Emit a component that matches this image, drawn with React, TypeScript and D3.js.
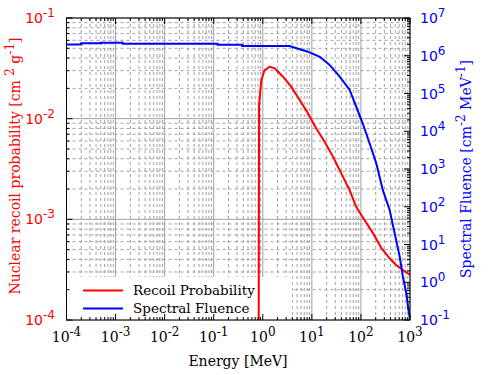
import React from "react";
import * as d3 from "d3";

const fluenceE = [1e-4, 2e-4, 2e-4, 5e-4, 5e-4, 1.4e-3, 1.4e-3, 0.12, 0.12, 0.38, 0.38, 3.5, 8.3, 14.5, 23, 37, 59, 80, 109, 150, 206, 280, 385, 486, 617, 716, 841, 950, 1000];
const fluenceV = [2.0e6, 2.0e6, 2.14e6, 2.14e6, 2.22e6, 2.22e6, 2.09e6, 2.09e6, 1.96e6, 1.96e6, 1.81e6, 1.81e6, 1.28e6, 9.4e5, 5.7e5, 2.8e5, 1.24e5, 4.5e4, 1.6e4, 4.8e3, 1.4e3, 275, 82, 20, 4.75, 1.4, 0.51, 0.15, 0.11];

const recoilE = [0.82, 0.84, 0.935, 1.09, 1.38, 1.75, 2.58, 3.82, 5.65, 8.3, 12.3, 18.2, 26.9, 39.8, 58.7, 80, 119, 176, 260, 385, 526, 716, 1000];
const recoilV = [1e-5, 0.0136, 0.0242, 0.0304, 0.0328, 0.0316, 0.0261, 0.0207, 0.0153, 0.0113, 0.008, 0.0059, 0.0042, 0.00286, 0.00195, 0.00133, 0.00098, 0.00073, 0.00052, 0.00041, 0.00035, 0.000314, 0.00028];

const xExps = [-4, -3, -2, -1, 0, 1, 2, 3];
const yLeftExps = [-4, -3, -2, -1];
const yRightExps = [-1, 0, 1, 2, 3, 4, 5, 6, 7];

const L = 66.5, R = 410, T = 18, B = 320;

function minors(exps: number[]) {
  const out: number[] = [];
  for (let i = 0; i < exps.length - 1; i++) {
    for (let k = 2; k <= 9; k++) out.push(k * Math.pow(10, exps[i]));
  }
  return out;
}

export default function App() {
  const x = d3.scaleLog().domain([1e-4, 1e3]).range([L, R]);
  const yL = d3.scaleLog().domain([1e-4, 1e-1]).range([B, T]);
  const yR = d3.scaleLog().domain([1e-1, 1e7]).range([B, T]);

  const xMaj = xExps.map((e) => Math.pow(10, e));
  const xMin = minors(xExps);
  const yLMaj = yLeftExps.map((e) => Math.pow(10, e));
  const yLMin = minors(yLeftExps);
  const yRMaj = yRightExps.map((e) => Math.pow(10, e));
  const yRMin = minors(yRightExps);

  const fluenceLine = d3
    .line<number>()
    .x((_, i) => x(fluenceE[i]))
    .y((d) => yR(d));
  const recoilLine = d3
    .line<number>()
    .x((_, i) => x(recoilE[i]))
    .y((d) => yL(d));

  const grid = "#a0a0a0";
  const sans = "DejaVu Sans, sans-serif";
  const serif = "DejaVu Serif, serif";

  return (
    <svg width={500} height={375} style={{ position: "absolute", left: 0, top: 0, background: "#fff" }}>
      <defs>
        <clipPath id="plot">
          <rect x={L} y={T} width={R - L} height={B - T} />
        </clipPath>
      </defs>
      {/* grid */}
      <g>
        {xMin.map((v, i) => (
          <line key={"gxm" + i} x1={x(v)} x2={x(v)} y1={T} y2={B} stroke={grid} strokeWidth={1} strokeDasharray="3,3" />
        ))}
        {yLMin.map((v, i) => (
          <line key={"gym" + i} x1={L} x2={R} y1={yL(v)} y2={yL(v)} stroke={grid} strokeWidth={1} strokeDasharray="3,3" />
        ))}
        {xMaj.map((v, i) => (
          <line key={"gxM" + i} x1={x(v)} x2={x(v)} y1={T} y2={B} stroke={grid} strokeWidth={1} />
        ))}
        {yLMaj.map((v, i) => (
          <line key={"gyM" + i} x1={L} x2={R} y1={yL(v)} y2={yL(v)} stroke={grid} strokeWidth={1} />
        ))}
      </g>
      {/* legend background */}
      <rect x={L + 0.5} y={277} width={225} height={B - 277 - 0.5} fill="#fff" />
      {/* data */}
      <g clipPath="url(#plot)" fill="none" strokeWidth={2}>
        <path d={recoilLine(recoilV) || ""} stroke="#ff0000" />
        <path d={fluenceLine(fluenceV) || ""} stroke="#0000ff" />
      </g>
      {/* frame */}
      <rect x={L} y={T} width={R - L} height={B - T} fill="none" stroke="#000" strokeWidth={1} />
      {/* ticks */}
      <g stroke="#000" strokeWidth={1}>
        {xMaj.map((v, i) => (
          <g key={"tx" + i}>
            <line x1={x(v)} x2={x(v)} y1={B} y2={B - 6} />
            <line x1={x(v)} x2={x(v)} y1={T} y2={T + 6} />
          </g>
        ))}
        {xMin.map((v, i) => (
          <g key={"txm" + i}>
            <line x1={x(v)} x2={x(v)} y1={B} y2={B - 3} />
            <line x1={x(v)} x2={x(v)} y1={T} y2={T + 3} />
          </g>
        ))}
        {yLMaj.map((v, i) => (
          <line key={"tl" + i} x1={L} x2={L + 6} y1={yL(v)} y2={yL(v)} />
        ))}
        {yLMin.map((v, i) => (
          <line key={"tlm" + i} x1={L} x2={L + 3} y1={yL(v)} y2={yL(v)} />
        ))}
        {yRMaj.map((v, i) => (
          <line key={"tr" + i} x1={R} x2={R - 6} y1={yR(v)} y2={yR(v)} />
        ))}
        {yRMin.map((v, i) => (
          <line key={"trm" + i} x1={R} x2={R - 3} y1={yR(v)} y2={yR(v)} />
        ))}
      </g>
      {/* x tick labels */}
      <g fontFamily={serif} fontSize={14} fill="#000">
        {xExps.map((e, i) => (
          <text key={"xl" + i} x={x(Math.pow(10, e))} y={342} textAnchor="middle">
            10<tspan fontSize={12} dy={-6}>{String(e)}</tspan>
          </text>
        ))}
      </g>
      {/* left tick labels */}
      <g fontFamily={sans} fontSize={14} fill="#ff0000">
        {yLeftExps.map((e, i) => (
          <text key={"yl" + i} x={55} y={yL(Math.pow(10, e)) + 5} textAnchor="end">
            10<tspan fontSize={12} dy={-6}>{String(e)}</tspan>
          </text>
        ))}
      </g>
      {/* right tick labels */}
      <g fontFamily={sans} fontSize={14} fill="#0000ff">
        {yRightExps.map((e, i) => (
          <text key={"yr" + i} x={420} y={yR(Math.pow(10, e)) + 5} textAnchor="start">
            10<tspan fontSize={12} dy={-6}>{String(e)}</tspan>
          </text>
        ))}
      </g>
      {/* axis titles */}
      <text x={238} y={366} textAnchor="middle" fontFamily={serif} fontSize={14} fill="#000">
        Energy [MeV]
      </text>
      <text
        transform="translate(20,166) rotate(-90)"
        textAnchor="middle"
        fontFamily={serif}
        fontSize={14}
        fill="#ff0000"
      >
        Nuclear recoil probability [cm <tspan fontSize={12} dy={-6}>2</tspan>
        <tspan dy={6}> g</tspan>
        <tspan fontSize={12} dy={-6}>-1</tspan>
        <tspan dy={6}>]</tspan>
      </text>
      <text
        transform="translate(471,169) rotate(-90)"
        textAnchor="middle"
        fontFamily={serif}
        fontSize={14}
        fill="#0000ff"
      >
        Spectral Fluence [cm<tspan fontSize={12} dy={-6}>-2</tspan>
        <tspan dy={6}> MeV</tspan>
        <tspan fontSize={12} dy={-6}>-1</tspan>
        <tspan dy={6}>]</tspan>
      </text>
      {/* legend */}
      <g fontFamily={serif} fontSize={13.5} fill="#000">
        <line x1={83} x2={123} y1={290.5} y2={290.5} stroke="#ff0000" strokeWidth={2} />
        <text x={133} y={295}>Recoil Probability</text>
        <line x1={83} x2={123} y1={308.5} y2={308.5} stroke="#0000ff" strokeWidth={2} />
        <text x={133} y={313}>Spectral Fluence</text>
      </g>
    </svg>
  );
}
